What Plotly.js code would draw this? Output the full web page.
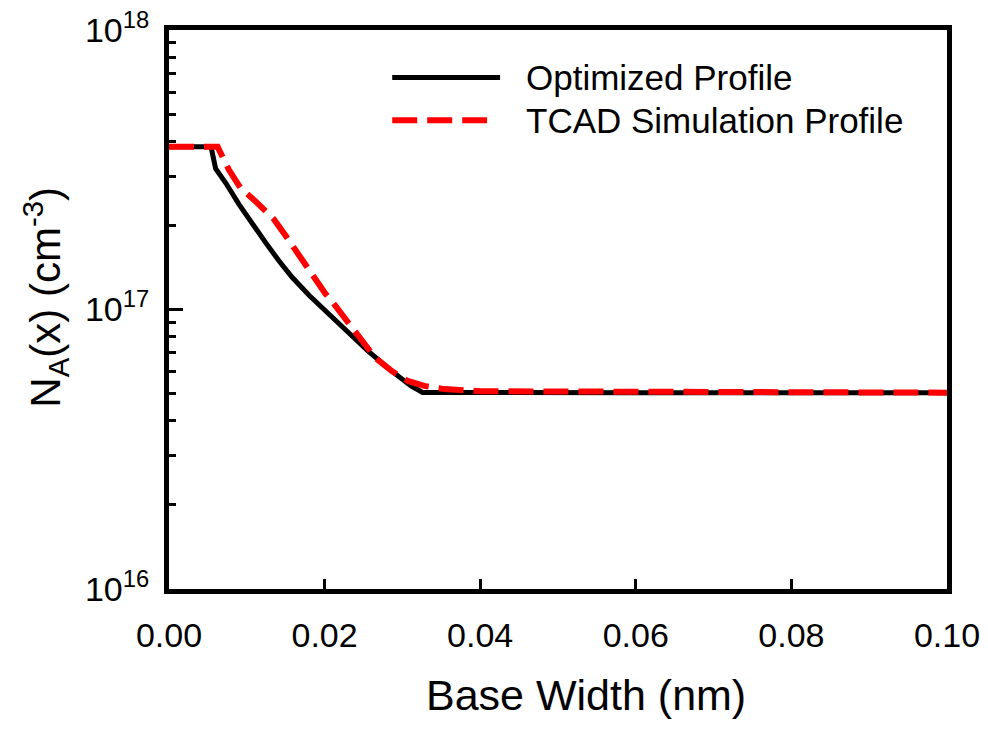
<!DOCTYPE html>
<html>
<head>
<meta charset="utf-8">
<script src="https://cdn.plot.ly/plotly-3.0.1.min.js"></script>
<style>html,body{margin:0;padding:0;background:#fff;}#chart{width:988px;height:731px;}</style>
</head>
<body>
<div id="chart"></div>
<script>
// Optimized profile (black solid)
const optX = [0, 0.0054, 0.0060, 0.0073, 0.0090, 0.0107, 0.0124, 0.0141, 0.0158, 0.0180, 0.0196, 0.0226, 0.0256, 0.0286, 0.0311, 0.0326, 0.0400, 0.0600, 0.0800, 0.1000];
const optY = [3.82e17, 3.82e17, 3.19e17, 2.835e17, 2.377e17, 2.019e17, 1.738e17, 1.497e17, 1.306e17, 1.125e17, 1.023e17, 8.46e16, 7.09e16, 6.03e16, 5.33e16, 5.05e16, 5.04e16, 5.04e16, 5.04e16, 5.04e16];
// TCAD simulation profile (red dashed)
const tcadX = [0, 0.00625, 0.0077, 0.0092, 0.0111, 0.0122, 0.0135, 0.0150, 0.0167, 0.0184, 0.0201, 0.0213, 0.0231, 0.0250, 0.0265, 0.0286, 0.0307, 0.0328, 0.0354, 0.0400, 0.0600, 0.0800, 0.1000];
const tcadY = [3.82e17, 3.82e17, 3.16e17, 2.72e17, 2.44e17, 2.28e17, 2.10e17, 1.835e17, 1.56e17, 1.33e17, 1.14e17, 1.038e17, 8.93e16, 7.59e16, 6.72e16, 6.03e16, 5.55e16, 5.33e16, 5.19e16, 5.10e16, 5.06e16, 5.05e16, 5.04e16];
// Tick labels
const xTickVals = [0, 0.02, 0.04, 0.06, 0.08, 0.10];
const xTickText = ['0.00', '0.02', '0.04', '0.06', '0.08', '0.10'];
const yTickVals = [1e16, 1e17, 1e18];
const yTickText = ['10<sup>16</sup>', '10<sup>17</sup>', '10<sup>18</sup>'];
const yMinorVals = [2e16,3e16,4e16,5e16,6e16,7e16,8e16,9e16,2e17,3e17,4e17,5e17,6e17,7e17,8e17,9e17];
const seriesNames = ['Optimized Profile', 'TCAD Simulation Profile'];

const FONT = 'Liberation Sans, Arial, Helvetica, sans-serif';
const L = 168.5, R = 947.5, T = 29.5, B = 589.5;
const W = R - L, H = B - T;
const px = x => (x - L) / W;
const py = y => (B - y) / H;

const traces = [
  {x: optX, y: optY, type: 'scatter', mode: 'lines', name: seriesNames[0],
   line: {color: '#000000', width: 5}, showlegend: false},
  {x: tcadX, y: tcadY, type: 'scatter', mode: 'lines', name: seriesNames[1],
   line: {color: '#ff0000', width: 6, dash: '25px,10px'}, showlegend: false}
];

const layout = {
  width: 988, height: 731,
  margin: {l: L, r: 988 - R, t: T, b: 731 - B, pad: 0},
  paper_bgcolor: '#ffffff', plot_bgcolor: '#ffffff',
  font: {family: FONT, color: '#000000'},
  showlegend: false,
  xaxis: {
    range: [0, 0.1], tickmode: 'array', tickvals: xTickVals, ticktext: xTickText,
    ticks: 'inside', ticklen: 10, tickwidth: 3, tickcolor: '#000',
    showline: true, linewidth: 5, linecolor: '#000', mirror: true,
    showgrid: false, zeroline: false,
    tickfont: {family: FONT, size: 34, color: '#000'},
    ticklabelstandoff: 12
  },
  yaxis: {
    type: 'log', range: [16, 18], tickmode: 'array', tickvals: yTickVals, ticktext: yTickText,
    ticks: 'inside', ticklen: 14, tickwidth: 3, tickcolor: '#000',
    minor: {tickmode: 'array', tickvals: yMinorVals, ticks: 'inside', ticklen: 7, tickwidth: 3, tickcolor: '#000', showgrid: false},
    showline: true, linewidth: 5, linecolor: '#000', mirror: true,
    showgrid: false, zeroline: false,
    tickfont: {family: FONT, size: 34, color: '#000'},
    ticklabelstandoff: 8
  },
  shapes: [
    {type: 'line', xref: 'paper', yref: 'paper', x0: px(392), x1: px(500), y0: py(77), y1: py(77),
     line: {color: '#000', width: 5}},
    {type: 'line', xref: 'paper', yref: 'paper', x0: px(392), x1: px(487), y0: py(120), y1: py(120),
     line: {color: '#ff0000', width: 6, dash: '25px,10px'}}
  ],
  annotations: [
    {xref: 'paper', yref: 'paper', x: px(524), y: py(77), xanchor: 'left', yanchor: 'middle',
     text: seriesNames[0], showarrow: false, font: {family: FONT, size: 35, color: '#000'}},
    {xref: 'paper', yref: 'paper', x: px(524), y: py(120), xanchor: 'left', yanchor: 'middle',
     text: seriesNames[1], showarrow: false, font: {family: FONT, size: 35, color: '#000'}},
    {xref: 'paper', yref: 'paper', x: px(586), y: py(696), xanchor: 'center', yanchor: 'middle',
     text: 'Base Width (nm)', showarrow: false, font: {family: FONT, size: 43, color: '#000'}},
    {xref: 'paper', yref: 'paper', x: px(44), y: py(297), xanchor: 'center', yanchor: 'middle',
     textangle: -90, text: 'N<sub>A</sub>(x) (cm<sup>-3</sup>)', showarrow: false,
     font: {family: FONT, size: 42, color: '#000'}}
  ]
};

Plotly.newPlot('chart', traces, layout, {displayModeBar: false, staticPlot: true});
</script>
</body>
</html>
